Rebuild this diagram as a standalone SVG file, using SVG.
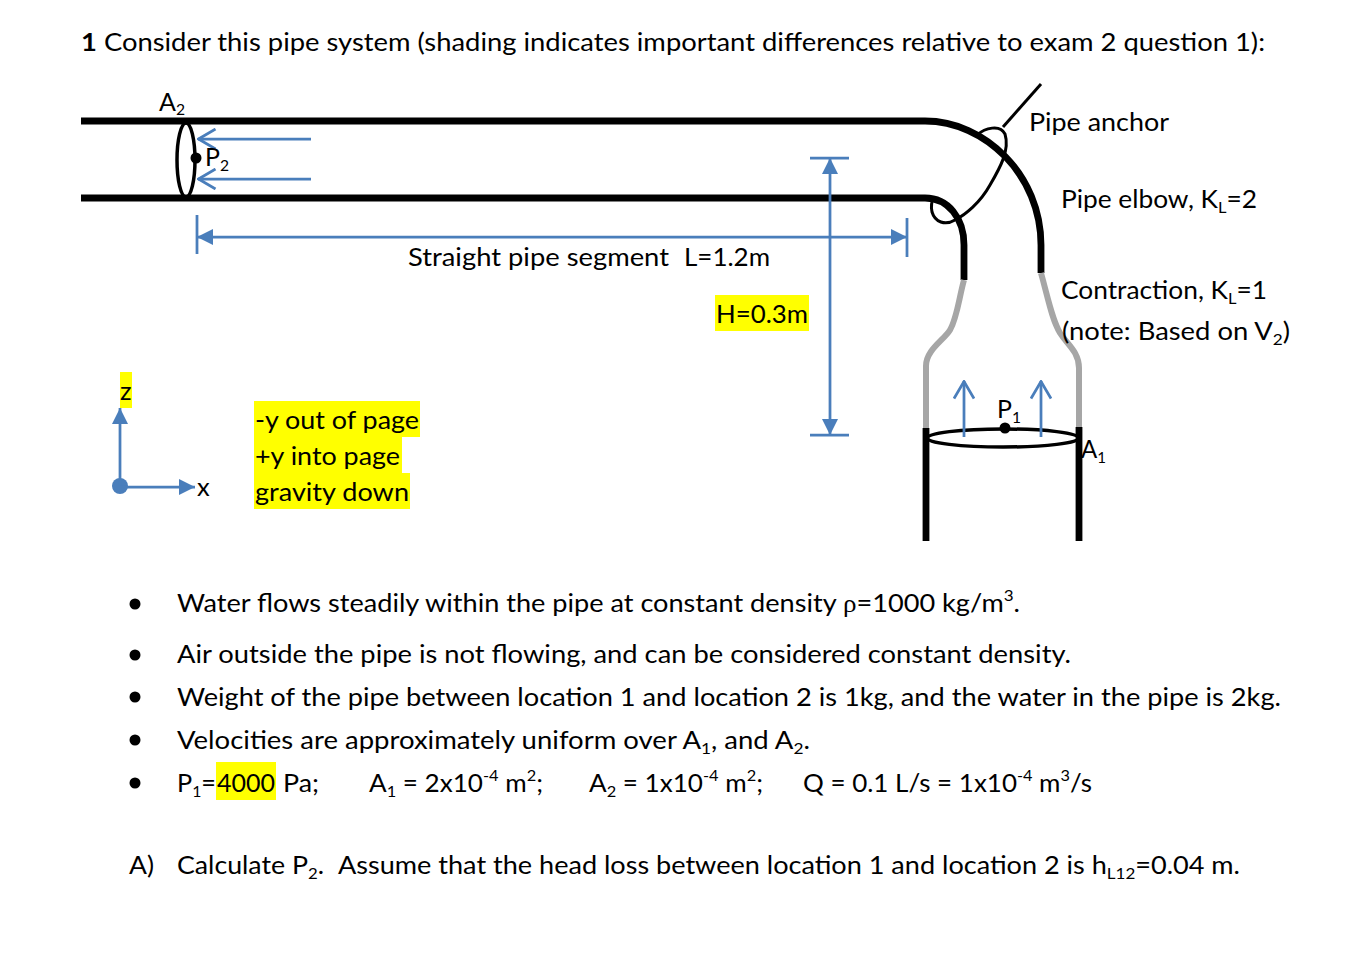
<svg xmlns="http://www.w3.org/2000/svg" width="1372" height="969" viewBox="0 0 1372 969">
<style>
text{font-family:"Lato","Carlito","Liberation Sans",sans-serif;font-size:25.5px;fill:#000}
.s{font-size:16px}
.hl{fill:#ffff00}
.pipe{fill:none;stroke:#000;stroke-width:6.8}
.gray{fill:none;stroke:#a6a6a6;stroke-width:6}
.thin{fill:none;stroke:#000;stroke-width:3.5}
.blue{fill:none;stroke:#4a7ebb;stroke-width:2.75}
.head{fill:#4a7ebb}
</style>
<defs>
<marker id="open" viewBox="0 0 20 22" refX="18.5" refY="11" markerWidth="20" markerHeight="22" markerUnits="userSpaceOnUse" orient="auto"><path d="M1,1 L18,11 L1,21" fill="none" stroke="#4a7ebb" stroke-width="2.75"/></marker>
<marker id="solid" viewBox="0 0 16 16" refX="16" refY="8" markerWidth="16" markerHeight="16" markerUnits="userSpaceOnUse" orient="auto-start-reverse"><path d="M0,0 L16,8 L0,16 Z" fill="#4a7ebb"/></marker>
</defs>

<g id="highlights">
<rect class="hl" x="120" y="372" width="12" height="36"/>
<rect class="hl" x="254" y="401" width="166" height="36"/>
<rect class="hl" x="254" y="437" width="148" height="36"/>
<rect class="hl" x="254" y="473" width="156" height="36"/>
<rect class="hl" x="715" y="295" width="94" height="36"/>
<rect class="hl" x="216" y="762" width="60" height="38"/>
</g>

<g id="pipe">
<path class="pipe" d="M81,121 H925 C985,121 1041,175 1041,245 V273"/>
<path class="pipe" d="M81,198 H925 C948,198 964,218 964,245 V280"/>
<path class="gray" d="M964,280 C959,298 957,318 950,330 C944,340 926,350 926,366 V429"/>
<path class="gray" d="M1041,273 C1048,298 1052,320 1060,333 C1067,344 1079,352 1079,368 V428"/>
<path class="pipe" d="M926,428 V541"/>
<path class="pipe" d="M1079,427 V541"/>
<ellipse class="thin" cx="1003" cy="438" rx="76" ry="9"/>
<circle cx="1005" cy="428" r="5.5"/>
<ellipse class="thin" cx="186" cy="160" rx="9" ry="37"/>
<circle cx="196" cy="158" r="5.5"/>
</g>

<g id="pipe-anchor">
<path class="thin" style="stroke-width:3" d="M1003,127 L1041,84"/>
<path class="thin" style="stroke-width:3" d="M977,135 C985,128 1000,124 1005,134 C1010,150 1000,168 990,185 C980,203 965,215 955,220 C945,226 935,222 932,212 C931,207 931,202 934,197"/>
</g>

<g id="connectors">
<path class="blue" d="M311,139 H198" marker-end="url(#open)"/>
<path class="blue" d="M311,179 H198" marker-end="url(#open)"/>
<path class="blue" d="M964,437 V381" marker-end="url(#open)"/>
<path class="blue" d="M1041,437 V381" marker-end="url(#open)"/>
<path class="blue" d="M197,237 H907" marker-start="url(#solid)" marker-end="url(#solid)"/>
<path class="blue" d="M197,215 V254 M907,218 V257"/>
<path class="blue" d="M830,158 V435" marker-start="url(#solid)" marker-end="url(#solid)"/>
<path class="blue" d="M810,158 H849 M810,435 H849"/>
<circle class="head" cx="120" cy="486" r="8"/>
<path class="blue" d="M120,486 V408" marker-end="url(#solid)"/>
<path class="blue" d="M120,487 H195" marker-end="url(#solid)"/>
</g>

<g id="labels">
<text x="81" y="51" textLength="1184" lengthAdjust="spacingAndGlyphs"><tspan font-weight="700">1</tspan> Consider this pipe system (shading indicates important differences relative to exam 2 question 1):</text>
<text x="159" y="111" textLength="26" lengthAdjust="spacingAndGlyphs">A<tspan class="s" dy="4">2</tspan></text>
<text x="205" y="166" textLength="24" lengthAdjust="spacingAndGlyphs">P<tspan class="s" dy="5">2</tspan></text>
<text x="408" y="266" textLength="261" lengthAdjust="spacingAndGlyphs">Straight pipe segment</text>
<text x="684" y="266" textLength="86" lengthAdjust="spacingAndGlyphs">L=1.2m</text>
<text x="716" y="323" textLength="92" lengthAdjust="spacingAndGlyphs">H=0.3m</text>
<text x="1029" y="131" textLength="140" lengthAdjust="spacingAndGlyphs">Pipe anchor</text>
<text x="1061" y="208" textLength="196" lengthAdjust="spacingAndGlyphs">Pipe elbow, K<tspan class="s" dy="5">L</tspan><tspan dy="-5">=2</tspan></text>
<text x="1061" y="299" textLength="206" lengthAdjust="spacingAndGlyphs">Contraction, K<tspan class="s" dy="5">L</tspan><tspan dy="-5">=1</tspan></text>
<text x="1062" y="340" textLength="228" lengthAdjust="spacingAndGlyphs">(note: Based on V<tspan class="s" dy="5">2</tspan><tspan dy="-5">)</tspan></text>
<text x="997" y="418" textLength="24" lengthAdjust="spacingAndGlyphs">P<tspan class="s" dy="5">1</tspan></text>
<text x="1081" y="458" textLength="25" lengthAdjust="spacingAndGlyphs">A<tspan class="s" dy="5">1</tspan></text>
<text x="120" y="400">z</text>
<text x="197" y="496">x</text>
<text x="255" y="429" textLength="164" lengthAdjust="spacingAndGlyphs">-y out of page</text>
<text x="255" y="465" textLength="145" lengthAdjust="spacingAndGlyphs">+y into page</text>
<text x="255" y="501" textLength="154" lengthAdjust="spacingAndGlyphs">gravity down</text>
</g>

<g id="bullets">
<circle cx="135" cy="604" r="5.5"/>
<circle cx="135" cy="655" r="5.5"/>
<circle cx="135" cy="697" r="5.5"/>
<circle cx="135" cy="740" r="5.5"/>
<circle cx="135" cy="783" r="5.5"/>
<text x="177" y="612" textLength="843" lengthAdjust="spacingAndGlyphs">Water flows steadily within the pipe at constant density <tspan style="font-family:'Liberation Serif',serif">ρ</tspan>=1000 kg/m<tspan class="s" dy="-11">3</tspan><tspan dy="11">.</tspan></text>
<text x="177" y="663" textLength="894" lengthAdjust="spacingAndGlyphs">Air outside the pipe is not flowing, and can be considered constant density.</text>
<text x="177" y="706" textLength="1104" lengthAdjust="spacingAndGlyphs">Weight of the pipe between location 1 and location 2 is 1kg, and the water in the pipe is 2kg.</text>
<text x="177" y="749" textLength="633" lengthAdjust="spacingAndGlyphs">Velocities are approximately uniform over A<tspan class="s" dy="5">1</tspan><tspan dy="-5">, and A</tspan><tspan class="s" dy="5">2</tspan><tspan dy="-5">.</tspan></text>
<text x="177" y="792" textLength="39" lengthAdjust="spacingAndGlyphs">P<tspan class="s" dy="5">1</tspan><tspan dy="-5">=</tspan></text>
<text x="217" y="792" textLength="58" lengthAdjust="spacingAndGlyphs">4000</text>
<text x="283" y="792" textLength="36" lengthAdjust="spacingAndGlyphs">Pa;</text>
<text x="369" y="792" textLength="174" lengthAdjust="spacingAndGlyphs">A<tspan class="s" dy="5">1</tspan><tspan dy="-5"> = 2x10</tspan><tspan class="s" dy="-11">-4</tspan><tspan dy="11"> m</tspan><tspan class="s" dy="-11">2</tspan><tspan dy="11">;</tspan></text>
<text x="589" y="792" textLength="174" lengthAdjust="spacingAndGlyphs">A<tspan class="s" dy="5">2</tspan><tspan dy="-5"> = 1x10</tspan><tspan class="s" dy="-11">-4</tspan><tspan dy="11"> m</tspan><tspan class="s" dy="-11">2</tspan><tspan dy="11">;</tspan></text>
<text x="803" y="792" textLength="289" lengthAdjust="spacingAndGlyphs">Q = 0.1 L/s = 1x10<tspan class="s" dy="-11">-4</tspan><tspan dy="11"> m</tspan><tspan class="s" dy="-11">3</tspan><tspan dy="11">/s</tspan></text>
<text x="129" y="874" textLength="25" lengthAdjust="spacingAndGlyphs">A)</text>
<text x="177" y="874" textLength="147" lengthAdjust="spacingAndGlyphs">Calculate P<tspan class="s" dy="5">2</tspan><tspan dy="-5">.</tspan></text>
<text x="338" y="874" textLength="902" lengthAdjust="spacingAndGlyphs">Assume that the head loss between location 1 and location 2 is h<tspan class="s" dy="5">L12</tspan><tspan dy="-5">=0.04 m.</tspan></text>
</g>
</svg>
